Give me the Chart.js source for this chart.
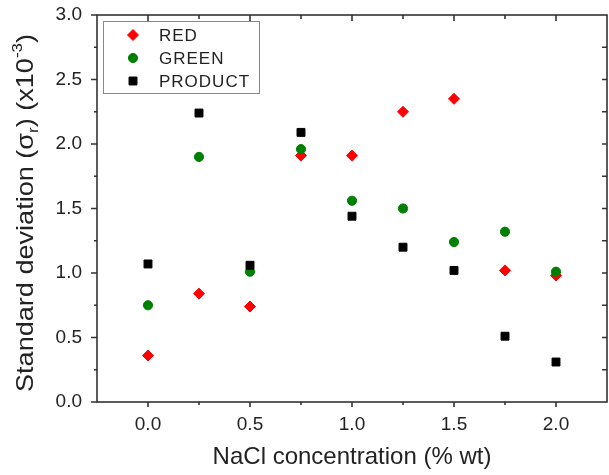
<!DOCTYPE html>
<html>
<head>
<meta charset="utf-8">
<script src="https://cdn.jsdelivr.net/npm/chart.js@4/dist/chart.umd.min.js"></script>
<style>
  body { margin: 0; background: #fff; }
  canvas { display: block; }
</style>
</head>
<body>
<canvas id="chart" width="609" height="475"></canvas>
<script>
// NaCl concentration (% wt) and std deviation values (x10^-3)
const concentration = [0, 0.25, 0.5, 0.75, 1.0, 1.25, 1.5, 1.75, 2.0];
const redValues = [0.36, 0.84, 0.74, 1.91, 1.91, 2.25, 2.35, 1.02, 0.98];
const greenValues = [0.75, 1.90, 1.01, 1.96, 1.56, 1.50, 1.24, 1.32, 1.01];
const productValues = [1.07, 2.24, 1.06, 2.09, 1.44, 1.20, 1.02, 0.51, 0.31];
const seriesNames = ['RED', 'GREEN', 'PRODUCT'];

const xTitle = 'NaCl concentration (% wt)';
const FONT = '"Liberation Sans", Arial, sans-serif';
const TEXT = '#222';
const AXIS = '#333';

const toPoints = vals => vals.map((v, i) => ({ x: concentration[i], y: v }));
const isMajor = v => Math.abs(v * 2 - Math.round(v * 2)) < 1e-6;

// frame + major/minor ticks on all four sides (origin-style)
const framePlugin = {
  id: 'frame',
  afterDraw(chart) {
    const { ctx, chartArea: a, scales: { x, y } } = chart;
    ctx.save();
    ctx.strokeStyle = AXIS;
    ctx.lineWidth = 1.6;
    ctx.strokeRect(a.left, a.top, a.right - a.left, a.bottom - a.top);
    ctx.beginPath();
    x.ticks.forEach(t => {
      if (t.value <= x.min || t.value >= x.max) return;
      const px = x.getPixelForValue(t.value);
      const out = isMajor(t.value) ? 5 : 3;
      const inn = isMajor(t.value) ? 6 : 4;
      ctx.moveTo(px, a.bottom); ctx.lineTo(px, a.bottom + out);
      ctx.moveTo(px, a.top); ctx.lineTo(px, a.top + inn);
    });
    y.ticks.forEach(t => {
      const py = y.getPixelForValue(t.value);
      const out = isMajor(t.value) ? 6 : 3;
      ctx.moveTo(a.left, py); ctx.lineTo(a.left - out, py);
      if (t.value > y.min && t.value < y.max) {
        ctx.moveTo(a.right, py); ctx.lineTo(a.right - 5, py);
      }
    });
    ctx.stroke();
    ctx.restore();
  }
};

// y title with subscript / superscript
const yTitlePlugin = {
  id: 'yTitle',
  afterDraw(chart) {
    const ctx = chart.ctx;
    const size = 24;
    const small = 15;
    const parts = [
      { text: 'Standard deviation (', f: size, dy: 0 },
      { text: 'σ', f: size, dy: 0 },
      { text: 'r', f: small, dy: 5 },
      { text: ') (x10', f: size, dy: 0 },
      { text: '-3', f: small, dy: -11 },
      { text: ')', f: size, dy: 0 }
    ];
    ctx.save();
    let total = 0;
    parts.forEach(p => {
      ctx.font = p.f + 'px ' + FONT;
      p.w = ctx.measureText(p.text).width;
      total += p.w;
    });
    ctx.translate(33, 213);
    ctx.rotate(-Math.PI / 2);
    ctx.scale(358 / total, 1);
    ctx.fillStyle = TEXT;
    ctx.textBaseline = 'alphabetic';
    let cx = -total / 2;
    parts.forEach(p => {
      ctx.font = p.f + 'px ' + FONT;
      ctx.fillText(p.text, cx, p.dy);
      cx += p.w;
    });
    ctx.restore();
  }
};

// boxed legend inside the plot, top-left
const legendPlugin = {
  id: 'boxLegend',
  afterDraw(chart) {
    const ctx = chart.ctx;
    ctx.save();
    ctx.strokeStyle = '#888';
    ctx.lineWidth = 1;
    ctx.strokeRect(103.5, 21.5, 156, 72);
    ctx.font = '17px ' + FONT;
    ctx.letterSpacing = '1px';
    ctx.textBaseline = 'middle';
    chart.data.datasets.forEach((ds, i) => {
      const yy = 35 + i * 23;
      ctx.fillStyle = ds.backgroundColor;
      ctx.strokeStyle = ds.borderColor;
      Chart.helpers.drawPoint(ctx, {
        pointStyle: ds.pointStyle, radius: ds.pointRadius,
        borderWidth: ds.borderWidth, rotation: 0
      }, 133, yy);
      ctx.fillStyle = TEXT;
      ctx.fillText(ds.label, 159, yy + 1);
    });
    ctx.restore();
  }
};

new Chart(document.getElementById('chart'), {
  type: 'scatter',
  data: {
    datasets: [
      {
        label: seriesNames[0],
        data: toPoints(redValues),
        pointStyle: 'rectRot',
        pointRadius: 5.5,
        backgroundColor: '#ff0000',
        borderColor: '#ff0000',
        borderWidth: 1,
        order: 2
      },
      {
        label: seriesNames[1],
        data: toPoints(greenValues),
        pointStyle: 'circle',
        pointRadius: 4.6,
        backgroundColor: '#008000',
        borderColor: '#008000',
        borderWidth: 1,
        order: 1
      },
      {
        label: seriesNames[2],
        data: toPoints(productValues),
        pointStyle: 'rect',
        pointRadius: 5.6,
        backgroundColor: '#000000',
        borderColor: '#000000',
        borderWidth: 1,
        order: 0
      }
    ]
  },
  options: {
    responsive: false,
    animation: false,
    events: [],
    layout: { autoPadding: false, padding: { top: 15, right: 2, left: 0, bottom: 0 } },
    plugins: {
      legend: { display: false },
      tooltip: { enabled: false }
    },
    scales: {
      x: {
        type: 'linear',
        min: -0.25,
        max: 2.25,
        afterFit(scale) {
          scale.height = 73;
          scale.paddingLeft = 0;
          scale.paddingRight = 0;
        },
        grid: { display: false, drawTicks: false },
        border: { display: false },
        ticks: {
          stepSize: 0.25,
          autoSkip: false,
          maxRotation: 0,
          padding: 11,
          color: TEXT,
          font: { family: FONT, size: 19 },
          callback: v => (isMajor(v) && v >= 0 && v <= 2 ? v.toFixed(1) : '')
        },
        title: {
          display: true,
          text: xTitle,
          color: TEXT,
          font: { family: FONT, size: 24 },
          padding: { top: 0, bottom: 3 }
        }
      },
      y: {
        min: 0,
        max: 3,
        afterFit(scale) {
          scale.width = 97;
          scale.paddingTop = 0;
          scale.paddingBottom = 0;
        },
        grid: { display: false, drawTicks: false },
        border: { display: false },
        ticks: {
          stepSize: 0.25,
          autoSkip: false,
          padding: 15,
          color: TEXT,
          font: { family: FONT, size: 19 },
          callback: v => (isMajor(v) ? v.toFixed(1) : '')
        }
      }
    }
  },
  plugins: [framePlugin, yTitlePlugin, legendPlugin]
});
</script>
</body>
</html>
